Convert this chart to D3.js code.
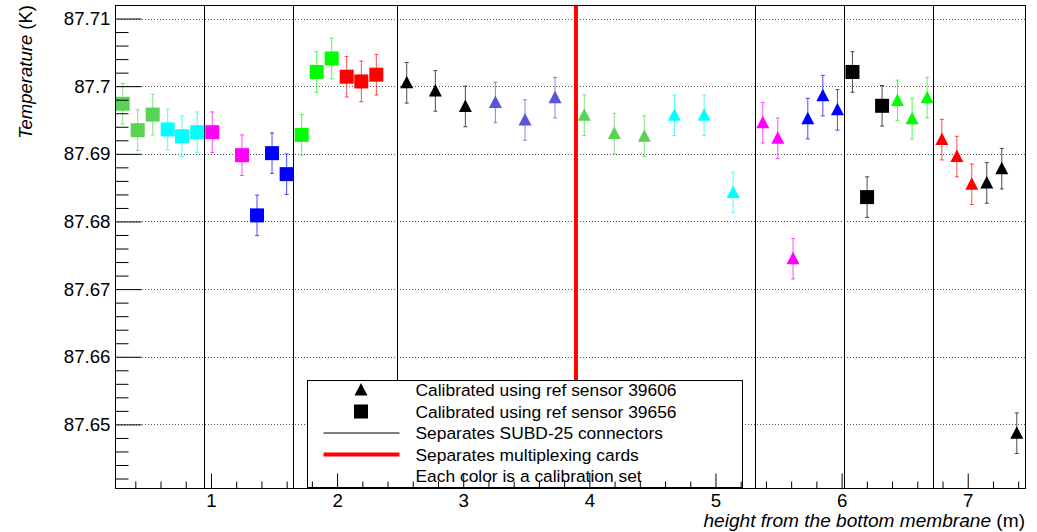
<!DOCTYPE html>
<html>
<head>
<meta charset="utf-8">
<script src="https://cdn.jsdelivr.net/npm/d3@7"></script>
<style>
	body { margin: 0; background: #fff; }
	svg { display: block; font-family: "Liberation Sans", Arial, Helvetica, sans-serif; }
	.axis path { display: none; }
	.axis line { stroke: #000; }
	.axis text { font-size: 18.7px; fill: #000; }
</style>
</head>
<body>
<div id="chart"></div>
<script>
// sensor heights (m), temperatures (K), error (K)
let heights	= [0.300, 0.419, 0.538, 0.657, 0.770, 0.891, 1.010, 1.246, 1.365, 1.484, 1.600, 1.719,
	1.838, 1.957, 2.076, 2.192, 2.311, 2.552, 2.779, 3.017, 3.255, 3.490, 3.728, 3.960, 4.198,
	4.436, 4.674, 4.910, 5.140, 5.375, 5.494, 5.615, 5.732, 5.851, 5.967, 6.086, 6.202, 6.321,
	6.443, 6.559, 6.678, 6.795, 6.914, 7.032, 7.151, 7.270, 7.389];
let temps	= [87.6974, 87.6935, 87.6958, 87.6936, 87.6926, 87.6932, 87.6932, 87.6898, 87.6809, 87.6901,
	87.6870, 87.6928, 87.7021, 87.7041, 87.7014, 87.7007, 87.7017, 87.7005, 87.6993, 87.6970,
	87.6976, 87.6950, 87.6983, 87.6957, 87.6930, 87.6926, 87.6957, 87.6957, 87.6843, 87.6946,
	87.6923, 87.6745, 87.6952, 87.6986, 87.6965, 87.7021, 87.6836, 87.6971, 87.6979, 87.6952,
	87.6983, 87.6921, 87.6896, 87.6855, 87.6857, 87.6878, 87.6487];
let errors	= [0.003, 0.003, 0.003, 0.003, 0.003, 0.003, 0.003, 0.003, 0.003, 0.003, 0.003, 0.003,
	0.003, 0.003, 0.003, 0.003, 0.003, 0.003, 0.003, 0.003, 0.003, 0.003, 0.003, 0.003, 0.003,
	0.003, 0.003, 0.003, 0.003, 0.003, 0.003, 0.003, 0.003, 0.003, 0.003, 0.003, 0.003, 0.003,
	0.003, 0.003, 0.003, 0.003, 0.003, 0.003, 0.003, 0.003, 0.003];
// calibration set colour of each sensor
let colors	= ["#59d354", "#59d354", "#59d354", "#00ffff", "#00ffff", "#00ffff", "#ff00ff", "#ff00ff",
	"#0000ff", "#0000ff", "#0000ff", "#00ff00", "#00ff00", "#00ff00", "#ff0000", "#ff0000", "#ff0000",
	"#000000", "#000000", "#000000", "#5954d9", "#5954d9", "#5954d9", "#59d354", "#59d354", "#59d354",
	"#00ffff", "#00ffff", "#00ffff", "#ff00ff", "#ff00ff", "#ff00ff", "#0000ff", "#0000ff", "#0000ff",
	"#000000", "#000000", "#000000", "#00ff00", "#00ff00", "#00ff00", "#ff0000", "#ff0000", "#ff0000",
	"#000000", "#000000", "#000000"];
// ref sensor: "T" = 39606 (triangle), "S" = 39656 (square)
let refs	= ["S", "S", "S", "S", "S", "S", "S", "S", "S", "S", "S", "S", "S", "S", "S", "S", "S",
	"T", "T", "T", "T", "T", "T", "T", "T", "T", "T", "T", "T", "T", "T", "T", "T", "T", "T",
	"S", "S", "S", "T", "T", "T", "T", "T", "T", "T", "T", "T"];

let connectors	= [0.947, 1.650, 2.475, 5.312, 6.020, 6.728];
let cards		= [3.894];

let xTicks		= [1, 2, 3, 4, 5, 6, 7];
let yTicks		= [87.65, 87.66, 87.67, 87.68, 87.69, 87.70, 87.71];

let legendLabels	= ["Calibrated using ref sensor 39606", "Calibrated using ref sensor 39656",
	"Separates SUBD-25 connectors", "Separates multiplexing cards", "Each color is a calibration set"];

let W = 1037, H = 532;
let frame = { left: 115, top: 5, right: 1026, bottom: 488 };

let x = d3.scaleLinear().domain([0.239, 7.462]).range([frame.left, frame.right]);
let y = d3.scaleLinear().domain([87.6406, 87.712]).range([frame.bottom, frame.top]);

let data = heights.map((h, i) => ({ x: h, t: temps[i], e: errors[i], c: colors[i], m: refs[i] }));

let svg = d3.select("#chart").append("svg")
	.attr("width", W)
	.attr("height", H);

let triPath = "M0,-7L6.5,5.5L-6.5,5.5Z";

// horizontal grid
svg.append("g")
	.selectAll("line")
	.data(yTicks)
	.enter().append("line")
		.attr("x1", frame.left).attr("x2", frame.right)
		.attr("y1", (d) => Math.round(y(d)) + 0.5).attr("y2", (d) => Math.round(y(d)) + 0.5)
		.attr("stroke", "#555")
		.attr("stroke-dasharray", "1,2");

// separators
svg.append("g")
	.selectAll("line")
	.data(connectors)
	.enter().append("line")
		.attr("x1", (d) => Math.round(x(d)) + 0.5).attr("x2", (d) => Math.round(x(d)) + 0.5)
		.attr("y1", frame.top).attr("y2", frame.bottom)
		.attr("stroke", "#000");

svg.append("g")
	.selectAll("line")
	.data(cards)
	.enter().append("line")
		.attr("x1", (d) => x(d)).attr("x2", (d) => x(d))
		.attr("y1", frame.top).attr("y2", frame.bottom)
		.attr("stroke", "#ff0000")
		.attr("stroke-width", 4);

// error bars
let err = svg.append("g").selectAll("g")
	.data(data)
	.enter().append("g")
		.attr("stroke", (o) => o.c)
		.attr("stroke-opacity", 0.7);

err.append("line")
	.attr("x1", (o) => x(o.x)).attr("x2", (o) => x(o.x))
	.attr("y1", (o) => y(o.t + o.e)).attr("y2", (o) => y(o.t - o.e));
err.append("line")
	.attr("x1", (o) => x(o.x) - 2).attr("x2", (o) => x(o.x) + 2)
	.attr("y1", (o) => y(o.t + o.e)).attr("y2", (o) => y(o.t + o.e));
err.append("line")
	.attr("x1", (o) => x(o.x) - 2).attr("x2", (o) => x(o.x) + 2)
	.attr("y1", (o) => y(o.t - o.e)).attr("y2", (o) => y(o.t - o.e));

// markers
svg.append("g").selectAll("rect")
	.data(data.filter((o) => o.m == "S"))
	.enter().append("rect")
		.attr("x", (o) => x(o.x) - 7)
		.attr("y", (o) => y(o.t) - 7)
		.attr("width", 14)
		.attr("height", 14)
		.attr("fill", (o) => o.c);

svg.append("g").selectAll("path")
	.data(data.filter((o) => o.m == "T"))
	.enter().append("path")
		.attr("d", triPath)
		.attr("transform", (o) => "translate(" + x(o.x) + "," + y(o.t) + ")")
		.attr("fill", (o) => o.c);

// legend
let lg = svg.append("g").attr("transform", "translate(307.5,380.5)");
lg.append("rect")
	.attr("width", 435)
	.attr("height", 107)
	.attr("fill", "#fff")
	.attr("stroke", "#000");

let rowY = (i) => 9.5 + i * 21.5;
lg.append("path").attr("d", triPath).attr("transform", "translate(53.5," + rowY(0) + ")");
lg.append("rect").attr("x", 46.5).attr("y", rowY(1) - 7).attr("width", 14).attr("height", 14);
lg.append("line").attr("x1", 16).attr("x2", 92).attr("y1", rowY(2)).attr("y2", rowY(2)).attr("stroke", "#000");
lg.append("line").attr("x1", 16).attr("x2", 92).attr("y1", rowY(3)).attr("y2", rowY(3)).attr("stroke", "#ff0000").attr("stroke-width", 4);

lg.selectAll("text")
	.data(legendLabels)
	.enter().append("text")
		.attr("x", 108)
		.attr("y", (d, i) => rowY(i))
		.attr("dy", "0.36em")
		.attr("font-size", 17.4)
		.text((d) => d);

// frame
svg.append("rect")
	.attr("x", frame.left + 0.5).attr("y", frame.top + 0.5)
	.attr("width", frame.right - frame.left - 1).attr("height", frame.bottom - frame.top)
	.attr("fill", "none")
	.attr("stroke", "#000");

// axes
let xMinor = d3.range(2, 38).map((k) => k / 5).filter((v) => v % 1 != 0);
svg.append("g")
	.attr("class", "x axis")
	.attr("transform", "translate(0," + (frame.bottom + 0.5) + ")")
	.call(d3.axisBottom(x).tickValues(xMinor).tickSize(-7).tickFormat(""));
svg.append("g")
	.attr("class", "x axis")
	.attr("transform", "translate(0," + (frame.bottom + 0.5) + ")")
	.call(d3.axisBottom(x).tickValues(xTicks).tickSize(-15).tickPadding(5).tickFormat(d3.format("d")));

let yMinor = d3.range(43821, 43856).map((k) => k * 0.002).filter((v) => Math.abs(v * 100 - Math.round(v * 100)) > 1e-6);
svg.append("g")
	.attr("class", "y axis")
	.attr("transform", "translate(" + (frame.left + 0.5) + ",0)")
	.call(d3.axisLeft(y).tickValues(yMinor).tickSize(-13).tickFormat(""));
svg.append("g")
	.attr("class", "y axis")
	.attr("transform", "translate(" + (frame.left + 0.5) + ",0)")
	.call(d3.axisLeft(y).tickValues(yTicks).tickSize(-26).tickPadding(5).tickFormat((d) => String(+d.toFixed(2))));

// axis titles
let yt = svg.append("text")
	.attr("transform", "translate(32," + frame.top + ") rotate(-90)")
	.attr("text-anchor", "end")
	.attr("font-size", 18.5);
yt.append("tspan").attr("font-style", "italic").text("Temperature");
yt.append("tspan").text(" (K)");

let xt = svg.append("text")
	.attr("x", frame.right - 1)
	.attr("y", 527)
	.attr("text-anchor", "end")
	.attr("font-size", 19.1);
xt.append("tspan").attr("font-style", "italic").text("height from the bottom membrane");
xt.append("tspan").text(" (m)");
</script>
</body>
</html>
